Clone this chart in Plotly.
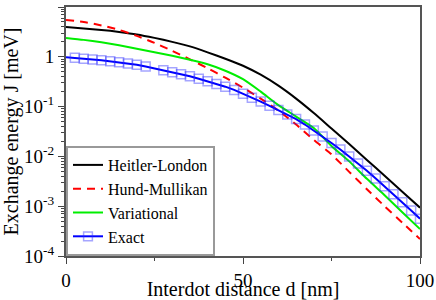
import plotly.graph_objects as go

# ---- data ----
d_grid = [0, 5, 10, 15, 20, 25, 30, 35, 40, 45, 50, 55, 60, 65, 70, 75, 80, 85, 90, 95, 100]

heitler_london_log = [0.60, 0.57, 0.54, 0.50, 0.45, 0.38, 0.30, 0.21, 0.09, -0.04, -0.18,
                      -0.36, -0.58, -0.84, -1.13, -1.44, -1.75, -2.07, -2.39, -2.71, -3.03]
hund_mullikan_log = [0.74, 0.70, 0.63, 0.54, 0.42, 0.28, 0.12, -0.05, -0.23, -0.42, -0.62,
                     -0.84, -1.08, -1.36, -1.67, -1.96, -2.31, -2.66, -3.00, -3.33, -3.66]
variational_log = [0.38, 0.34, 0.29, 0.23, 0.16, 0.09, 0.02, -0.06, -0.15, -0.28, -0.45,
                   -0.70, -0.97, -1.20, -1.43, -1.79, -2.10, -2.45, -2.78, -3.12, -3.46]

d_exact = [0, 2.5, 5, 7.5, 10, 12.5, 15, 17.5, 20, 22.5, 27.5, 30, 32.5, 35, 37.5, 40, 42.5,
           45, 47.5, 50, 52.5, 55, 57.5, 60, 62.5, 65, 67.5, 70, 72.5, 75, 77.5, 80, 82.5,
           85, 87.5, 90, 92.5, 95, 97.5, 100]
exact_log = [-0.01, -0.02, -0.04, -0.055, -0.07, -0.09, -0.11, -0.135, -0.16, -0.195, -0.27,
             -0.31, -0.35, -0.39, -0.44, -0.49, -0.545, -0.60, -0.665, -0.74, -0.82, -0.90,
             -0.985, -1.07, -1.16, -1.25, -1.36, -1.48, -1.60, -1.73, -1.86, -2.00, -2.145,
             -2.29, -2.445, -2.60, -2.76, -2.92, -3.085, -3.25]

y_tick_vals = [1e-4, 1e-3, 1e-2, 1e-1, 1, 10]
y_tick_text = ["10<sup>-4</sup>", "10<sup>-3</sup>", "10<sup>-2</sup>", "10<sup>-1</sup>", "1", "10"]
x_tick_vals = [0, 50, 100]
x_tick_text = ["0", "50", "100"]

series_names = ["Heitler-London", "Hund-Mullikan", "Variational", "Exact"]

# ---- figure ----
def pw(v):
    return [10 ** x for x in v]

FONT = "Liberation Serif"

fig = go.Figure()
fig.add_trace(go.Scatter(x=d_grid, y=pw(heitler_london_log), name=series_names[0], mode="lines",
                         line=dict(color="#000000", width=2, shape="spline", smoothing=0.6)))
fig.add_trace(go.Scatter(x=d_grid, y=pw(hund_mullikan_log), name=series_names[1], mode="lines",
                         line=dict(color="#ff0000", width=2, dash="8px,6px", shape="spline", smoothing=0.6)))
fig.add_trace(go.Scatter(x=d_grid, y=pw(variational_log), name=series_names[2], mode="lines",
                         line=dict(color="#00ee00", width=2, shape="spline", smoothing=0.6)))
marker_sizes = [0] + [9] * (len(d_exact) - 1)
fig.add_trace(go.Scatter(x=d_exact, y=pw(exact_log), name=series_names[3], mode="lines+markers",
                         line=dict(color="#0000ff", width=2),
                         marker=dict(symbol="square-open", size=marker_sizes,
                                     color="rgba(40,40,255,0.6)",
                                     line=dict(width=1.5, color="rgba(40,40,255,0.6)"))))

minor_y = [k * 10 ** e for e in range(-4, 1) for k in range(2, 10)]

fig.update_layout(
    width=436, height=300,
    margin=dict(l=66, r=16, t=7, b=44),
    paper_bgcolor="white", plot_bgcolor="white",
    font=dict(family=FONT, size=19, color="#000"),
    showlegend=True,
    legend=dict(x=0, y=0, xanchor="left", yanchor="bottom",
                bgcolor="white", bordercolor="#999", borderwidth=2,
                font=dict(family=FONT, size=16, color="#000"),
                tracegroupgap=0, itemwidth=30),
)
fig.update_xaxes(range=[0, 100], tickvals=x_tick_vals, ticktext=x_tick_text, automargin=False,
                 tickfont=dict(family=FONT, size=19),
                 ticks="outside", ticklen=6, tickwidth=1, tickcolor="#444",
                 showline=True, linecolor="#555", linewidth=2, mirror=True,
                 showgrid=False, zeroline=False,
                 minor=dict(tickvals=[25, 75], ticks="outside", ticklen=3, tickcolor="#444"),
                 title=dict(text="Interdot distance d [nm]", font=dict(family=FONT, size=20), standoff=1))
fig.update_yaxes(type="log", range=[-4, 1], tickvals=y_tick_vals, ticktext=y_tick_text, automargin=False,
                 tickfont=dict(family=FONT, size=19),
                 ticks="outside", ticklen=6, tickwidth=1, tickcolor="#444",
                 showline=True, linecolor="#555", linewidth=2, mirror=True,
                 showgrid=False, zeroline=False,
                 minor=dict(tickvals=minor_y, ticks="outside", ticklen=3, tickcolor="#444"),
                 title=dict(text="Exchange energy J [meV]", font=dict(family=FONT, size=20), standoff=0))

fig.write_html("out.html", config={"displayModeBar": False},
               post_script="document.body.style.margin='0';document.body.style.overflow='hidden';")
